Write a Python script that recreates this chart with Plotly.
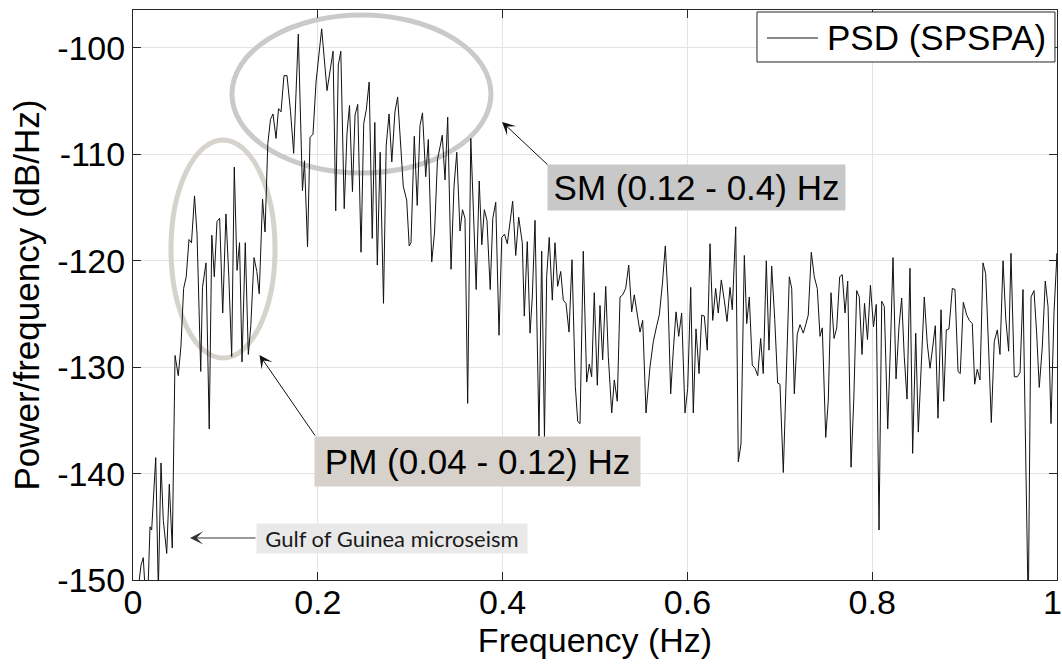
import plotly.graph_objects as go

# Power spectral density of the SPSPA record (frequency in Hz, level in dB/Hz)
freq_hz = [
    0.0000, 0.0054, 0.0087, 0.0111, 0.0135, 0.0162, 0.0184, 0.0202, 0.0246, 0.0274,
    0.0303, 0.0328, 0.0365, 0.0393, 0.0425, 0.0455, 0.0490, 0.0519, 0.0548, 0.0576,
    0.0606, 0.0633, 0.0666, 0.0693, 0.0733, 0.0752, 0.0790, 0.0825, 0.0853, 0.0880,
    0.0909, 0.0938, 0.0971, 0.1006, 0.1037, 0.1068, 0.1096, 0.1126, 0.1153, 0.1180,
    0.1215, 0.1248, 0.1275, 0.1310, 0.1340, 0.1366, 0.1402, 0.1429, 0.1459, 0.1488,
    0.1515, 0.1548, 0.1575, 0.1602, 0.1634, 0.1667, 0.1705, 0.1739, 0.1789, 0.1834,
    0.1856, 0.1889, 0.1916, 0.1948, 0.1981, 0.2042, 0.2100, 0.2165, 0.2194, 0.2222,
    0.2249, 0.2286, 0.2316, 0.2343, 0.2375, 0.2403, 0.2432, 0.2468, 0.2497, 0.2525,
    0.2556, 0.2589, 0.2617, 0.2644, 0.2675, 0.2711, 0.2740, 0.2771, 0.2801, 0.2835,
    0.2864, 0.2895, 0.2925, 0.2962, 0.2989, 0.3009, 0.3044, 0.3076, 0.3106, 0.3133,
    0.3168, 0.3196, 0.3233, 0.3263, 0.3295, 0.3323, 0.3347, 0.3377, 0.3406, 0.3442,
    0.3474, 0.3504, 0.3539, 0.3566, 0.3593, 0.3622, 0.3656, 0.3685, 0.3714, 0.3747,
    0.3775, 0.3802, 0.3831, 0.3866, 0.3894, 0.3926, 0.3961, 0.3991, 0.4021, 0.4051,
    0.4080, 0.4109, 0.4142, 0.4174, 0.4213, 0.4235, 0.4267, 0.4297, 0.4321, 0.4351,
    0.4394, 0.4423, 0.4453, 0.4477, 0.4505, 0.4538, 0.4567, 0.4596, 0.4629, 0.4657,
    0.4686, 0.4719, 0.4751, 0.4787, 0.4813, 0.4838, 0.4873, 0.4910, 0.4938, 0.4964,
    0.4992, 0.5025, 0.5054, 0.5083, 0.5116, 0.5144, 0.5181, 0.5209, 0.5241, 0.5271,
    0.5300, 0.5332, 0.5365, 0.5397, 0.5425, 0.5458, 0.5487, 0.5516, 0.5552, 0.5595,
    0.5631, 0.5668, 0.5696, 0.5728, 0.5761, 0.5790, 0.5819, 0.5847, 0.5877, 0.5906,
    0.5938, 0.5974, 0.6003, 0.6036, 0.6064, 0.6093, 0.6126, 0.6155, 0.6183, 0.6215,
    0.6245, 0.6274, 0.6306, 0.6334, 0.6367, 0.6399, 0.6429, 0.6461, 0.6486, 0.6523,
    0.6551, 0.6580, 0.6616, 0.6642, 0.6670, 0.6702, 0.6732, 0.6761, 0.6793, 0.6821,
    0.6854, 0.6883, 0.6912, 0.6945, 0.6977, 0.7002, 0.7038, 0.7103, 0.7129, 0.7157,
    0.7189, 0.7219, 0.7254, 0.7281, 0.7308, 0.7341, 0.7373, 0.7406, 0.7435, 0.7460,
    0.7497, 0.7525, 0.7554, 0.7587, 0.7616, 0.7648, 0.7676, 0.7706, 0.7735, 0.7771,
    0.7801, 0.7832, 0.7860, 0.7890, 0.7917, 0.7949, 0.7981, 0.8014, 0.8044, 0.8074,
    0.8103, 0.8131, 0.8168, 0.8200, 0.8225, 0.8258, 0.8290, 0.8319, 0.8347, 0.8377,
    0.8409, 0.8438, 0.8471, 0.8499, 0.8536, 0.8564, 0.8596, 0.8626, 0.8655, 0.8683,
    0.8712, 0.8745, 0.8774, 0.8802, 0.8831, 0.8867, 0.8896, 0.8929, 0.8953, 0.8986,
    0.9023, 0.9051, 0.9083, 0.9109, 0.9137, 0.9167, 0.9199, 0.9228, 0.9259, 0.9289,
    0.9321, 0.9354, 0.9383, 0.9416, 0.9445, 0.9477, 0.9502, 0.9538, 0.9570, 0.9600,
    0.9632, 0.9689, 0.9719, 0.9751, 0.9780, 0.9808, 0.9841, 0.9873, 0.9903, 0.9935,
    0.9968, 1.0000, 1.0032,
]

psd_db = [
    -153.0, -151.0, -148.6, -147.9, -151.5, -151.0, -145.0, -145.3, -138.5, -151.0,
    -139.0, -144.4, -147.5, -141.0, -147.0, -128.9, -130.8, -128.0, -122.6, -121.5,
    -118.0, -118.3, -113.9, -117.5, -130.4, -122.5, -120.2, -135.8, -117.6, -121.5,
    -116.3, -116.0, -124.9, -115.6, -121.5, -129.0, -111.2, -120.9, -118.3, -129.5,
    -118.3, -128.8, -126.1, -119.7, -121.0, -123.1, -114.2, -117.3, -109.0, -106.7,
    -106.2, -108.5, -105.7, -106.0, -102.6, -102.6, -106.0, -109.9, -98.7, -113.4,
    -110.6, -118.7, -108.4, -108.1, -103.2, -98.2, -104.0, -100.3, -115.3, -101.6,
    -100.3, -115.1, -108.0, -105.4, -113.5, -106.3, -105.3, -119.2, -107.1, -105.8,
    -103.2, -117.9, -107.0, -120.4, -109.8, -124.0, -109.2, -106.2, -110.7, -106.0,
    -104.6, -109.0, -113.0, -114.3, -118.6, -118.3, -108.3, -114.8, -107.3, -106.1,
    -112.1, -108.6, -120.1, -117.4, -110.5, -109.3, -108.2, -112.4, -106.5, -120.8,
    -113.0, -109.8, -117.2, -115.2, -116.0, -133.4, -108.5, -115.5, -122.7, -112.5,
    -118.5, -115.2, -116.2, -122.7, -116.0, -114.5, -127.0, -117.8, -117.5, -118.4,
    -116.5, -114.4, -119.5, -115.9, -118.3, -125.2, -118.2, -126.8, -123.5, -116.2,
    -136.5, -119.1, -136.6, -121.5, -117.8, -123.7, -118.3, -122.4, -121.0, -123.7,
    -124.0, -126.7, -119.9, -131.8, -135.1, -135.3, -119.1, -131.4, -129.7, -130.9,
    -123.0, -131.7, -124.2, -129.3, -122.4, -129.0, -134.3, -131.2, -133.2, -123.4,
    -123.2, -122.6, -120.4, -124.8, -123.2, -125.1, -126.7, -125.6, -134.3, -130.0,
    -127.6, -126.1, -125.1, -122.3, -118.6, -123.5, -132.5, -128.5, -124.8, -127.1,
    -124.9, -134.3, -132.0, -122.5, -134.3, -126.4, -130.6, -125.1, -125.2, -128.4,
    -118.4, -125.6, -122.6, -124.9, -121.8, -123.7, -125.7, -122.5, -124.6, -116.8,
    -138.9, -137.2, -119.5, -125.9, -123.4, -129.8, -130.1, -130.8, -127.3, -130.6,
    -120.0, -128.4, -120.5, -125.5, -131.5, -131.6, -139.9, -121.5, -122.6, -132.5,
    -126.9, -126.0, -126.8, -126.0, -125.1, -119.2, -121.5, -122.6, -127.1, -126.3,
    -136.6, -133.1, -123.0, -127.3, -126.3, -121.5, -121.3, -124.9, -121.9, -139.4,
    -133.0, -122.8, -123.4, -128.8, -124.0, -127.4, -122.3, -126.2, -124.1, -145.3,
    -123.8, -124.3, -135.8, -127.3, -119.7, -131.1, -126.2, -123.5, -129.0, -133.0,
    -120.7, -138.1, -126.8, -136.1, -128.1, -123.4, -127.8, -130.1, -128.1, -126.1,
    -134.8, -124.6, -133.2, -126.5, -126.4, -122.6, -122.7, -130.4, -130.6, -123.9,
    -125.1, -125.6, -125.9, -131.6, -130.2, -131.2, -120.2, -121.2, -128.0, -135.2,
    -127.6, -126.5, -128.8, -120.0, -125.4, -128.5, -119.3, -130.9, -130.9, -130.5,
    -122.7, -153.0, -123.4, -122.8, -126.8, -131.9, -128.1, -121.9, -124.3, -135.3,
    -124.8, -119.3, -128.0,
]

x_ticks = [0, 0.2, 0.4, 0.6, 0.8, 1.0]
x_tick_labels = ["0", "0.2", "0.4", "0.6", "0.8", "1"]
y_ticks = [-150, -140, -130, -120, -110, -100]
y_tick_labels = ["-150", "-140", "-130", "-120", "-110", "-100"]
series_name = "PSD (SPSPA)"

FONT = "Liberation Sans, Arial, sans-serif"
AXIS_COL = "#262626"
GRID_COL = "#e4e4e4"
LINE_COL = "#111111"
TICK_SIZE = 34

fig = go.Figure()
fig.add_trace(go.Scatter(
    x=freq_hz, y=psd_db, mode="lines", name=series_name,
    line=dict(color=LINE_COL, width=1), showlegend=False,
))

# Highlight ellipses for the primary (PM) and secondary (SM) microseism bands
fig.add_shape(type="circle", xref="x", yref="y",
              x0=0.1071, x1=0.3874, y0=-111.75, y1=-96.9,
              line=dict(color="#cacaca", width=5), layer="between")
fig.add_shape(type="circle", xref="x", yref="y",
              x0=0.0411, x1=0.1537, y0=-129.14, y1=-108.65,
              line=dict(color="#d6d3cc", width=5), layer="between")

# Boxed legend in the upper-right corner
fig.add_shape(type="rect", xref="paper", yref="paper",
              x0=0.6753, x1=0.9978, y0=0.9088, y1=0.9965,
              line=dict(color=AXIS_COL, width=1), fillcolor="white", layer="above")
fig.add_shape(type="line", xref="paper", yref="paper",
              x0=0.6861, x1=0.7413, y0=0.9509, y1=0.9509,
              line=dict(color=LINE_COL, width=1), layer="above")

# the last x tick label sits flush with the right page edge, so it is placed
# as an annotation nudged inward instead of as a regular axis label
axis_tick_text = x_tick_labels[:-1] + [""]

annotations = [
    dict(x=x_ticks[-1], y=0, xref="x", yref="paper", text=x_tick_labels[-1],
         showarrow=False, xanchor="center", yanchor="top", xshift=-5, yshift=-1,
         font=dict(family=FONT, size=TICK_SIZE, color="black")),
    dict(x=0.7489, y=0.9509, xref="paper", yref="paper", text=series_name,
         showarrow=False, xanchor="left", yanchor="middle",
         font=dict(family=FONT, size=35, color="black")),
    # arrows
    dict(x=0.3994, y=-106.95, ax=0.4502, ay=-111.09, xref="x", yref="y",
         axref="x", ayref="y", text="", showarrow=True, arrowhead=3,
         arrowsize=2.2, arrowwidth=1, arrowcolor="#111111"),
    dict(x=0.1369, y=-128.85, ax=0.1981, ay=-136.56, xref="x", yref="y",
         axref="x", ayref="y", text="", showarrow=True, arrowhead=3,
         arrowsize=2.2, arrowwidth=1, arrowcolor="#111111"),
    dict(x=0.0617, y=-146.05, ax=0.1342, ay=-146.05, xref="x", yref="y",
         axref="x", ayref="y", text="", showarrow=True, arrowhead=3,
         arrowsize=2.2, arrowwidth=1, arrowcolor="#333333"),
    # band labels
    dict(x=0.6098, y=-113.11, xref="x", yref="y", text="SM (0.12 - 0.4) Hz",
         showarrow=False, bgcolor="#c8c8c8", width=297, height=45, borderpad=0,
         font=dict(family=FONT, size=35, color="black")),
    dict(x=0.3728, y=-138.86, xref="x", yref="y", text="PM (0.04 - 0.12) Hz",
         showarrow=False, bgcolor="#d6d2cb", width=325, height=49, borderpad=0,
         font=dict(family=FONT, size=35, color="black")),
    dict(x=0.2803, y=-146.1, xref="x", yref="y", text="Gulf of Guinea microseism",
         showarrow=False, bgcolor="#e9e9e9", width=270, height=29, borderpad=0,
         font=dict(family="Lato, sans-serif", size=22, color="#1a1a1a")),
]

fig.update_layout(
    width=1062, height=669,
    margin=dict(l=133, r=5, t=10, b=89, autoexpand=False),
    paper_bgcolor="white", plot_bgcolor="white",
    font=dict(family=FONT, color="black"),
    showlegend=False,
    annotations=annotations,
)

fig.update_xaxes(
    range=[0, 1], tickvals=x_ticks, ticktext=axis_tick_text,
    ticks="inside", ticklen=8, tickcolor=AXIS_COL,
    showline=True, linecolor=AXIS_COL, linewidth=1, mirror="ticks",
    showgrid=True, gridcolor=GRID_COL, gridwidth=1, zeroline=False,
    tickfont=dict(family=FONT, size=TICK_SIZE, color="black"),
    ticklabelstandoff=-8, automargin=False,
    title=dict(text="Frequency (Hz)", font=dict(family=FONT, size=34, color="black"),
               standoff=2),
)
fig.update_yaxes(
    range=[-150, -96.43], tickvals=y_ticks, ticktext=y_tick_labels,
    ticks="inside", ticklen=8, tickcolor=AXIS_COL,
    showline=True, linecolor=AXIS_COL, linewidth=1, mirror="ticks",
    showgrid=True, gridcolor=GRID_COL, gridwidth=1, zeroline=False,
    tickfont=dict(family=FONT, size=TICK_SIZE, color="black"), automargin=False,
    title=dict(text="Power/frequency (dB/Hz)",
               font=dict(family=FONT, size=35, color="black"), standoff=6),
)

fig.write_html("out.html")
